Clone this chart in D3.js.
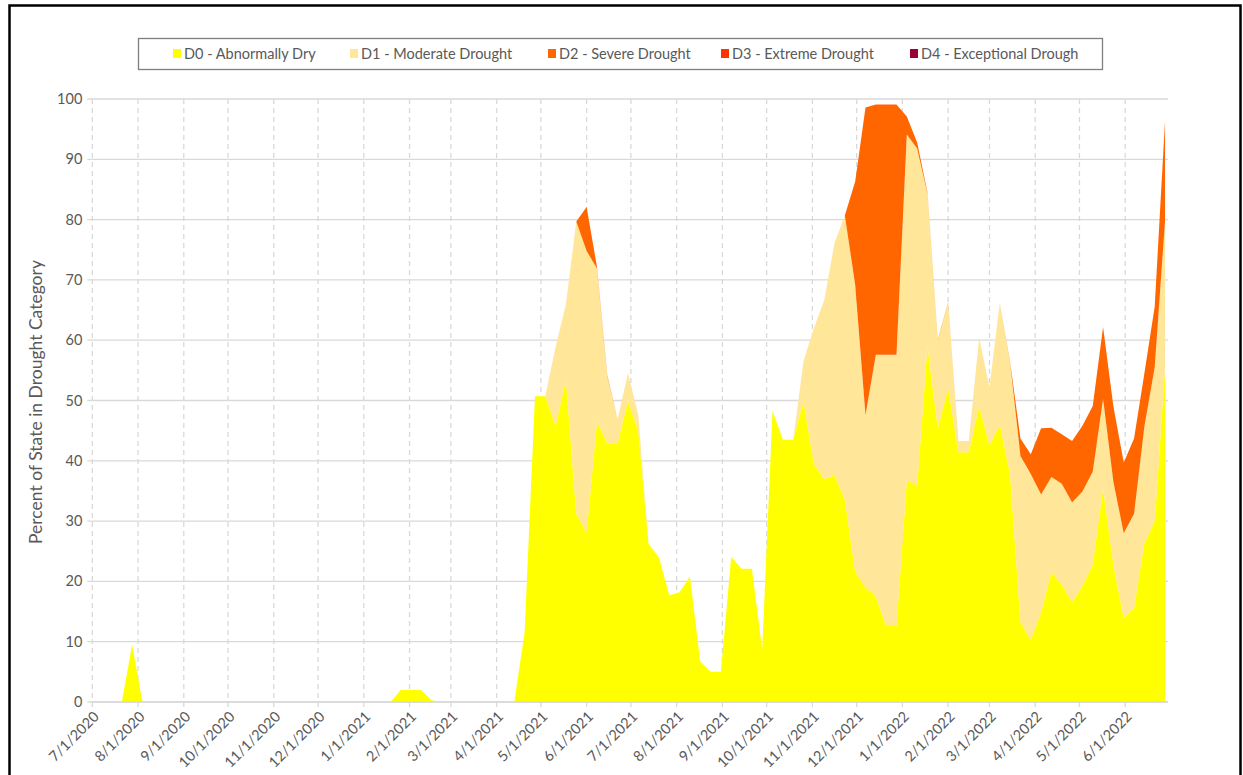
<!DOCTYPE html>
<html><head><meta charset="utf-8">
<script src="https://cdn.jsdelivr.net/npm/d3@7/dist/d3.min.js"></script>
<style>
body{margin:0;background:#fff}
text{font-family:Lato,"Open Sans",sans-serif;fill:#595959}
</style>
</head><body>
<svg id="chart" width="1243" height="775"></svg>
<script>
// ---- data (weekly US Drought Monitor style, percent of state) ----
const dates = [
"2020-07-07","2020-07-14","2020-07-21","2020-07-28","2020-08-04","2020-08-11","2020-08-18","2020-08-25",
"2020-09-01","2020-09-08","2020-09-15","2020-09-22","2020-09-29","2020-10-06","2020-10-13","2020-10-20",
"2020-10-27","2020-11-03","2020-11-10","2020-11-17","2020-11-24","2020-12-01","2020-12-08","2020-12-15",
"2020-12-22","2020-12-29","2021-01-05","2021-01-12","2021-01-19","2021-01-26","2021-02-02","2021-02-09",
"2021-02-16","2021-02-23","2021-03-02","2021-03-09","2021-03-16","2021-03-23","2021-03-30","2021-04-06",
"2021-04-13","2021-04-20","2021-04-27","2021-05-04","2021-05-11","2021-05-18","2021-05-25","2021-06-01",
"2021-06-08","2021-06-15","2021-06-22","2021-06-29","2021-07-06","2021-07-13","2021-07-20","2021-07-27",
"2021-08-03","2021-08-10","2021-08-17","2021-08-24","2021-08-31","2021-09-07","2021-09-14","2021-09-21",
"2021-09-28","2021-10-05","2021-10-12","2021-10-19","2021-10-26","2021-11-02","2021-11-09","2021-11-16",
"2021-11-23","2021-11-30","2021-12-07","2021-12-14","2021-12-21","2021-12-28","2022-01-04","2022-01-11",
"2022-01-18","2022-01-25","2022-02-01","2022-02-08","2022-02-15","2022-02-22","2022-03-01","2022-03-08",
"2022-03-15","2022-03-22","2022-03-29","2022-04-05","2022-04-12","2022-04-19","2022-04-26","2022-05-03",
"2022-05-10","2022-05-17","2022-05-24","2022-05-31","2022-06-07","2022-06-14","2022-06-21","2022-06-28"];

const d0 = [
0,0,0,9.5,0,0,0,0, 0,0,0,0,0,0,0,0, 0,0,0,0,0,0,0,0, 0,0,0,0,0,2.0,2.0,2.0,
0.3,0,0,0,0,0,0,0, 0,11.6,50.7,50.7,45.8,53.5,31.2,28.1,
46.5,42.9,42.9,49.9,45.0,26.2,24.0,17.7, 18.2,20.8,6.7,5.0,5.0,24.1,22.1,22.1,
8.7,48.3,43.5,43.5,49.9,39.5,37.0,37.6, 33.6,21.6,19.0,17.5,12.6,12.6,36.8,35.9,
59.1,45.4,52.1,41.4,41.4,49.1,42.6,46.0, 37.8,13.3,10.3,14.9,21.5,19.5,16.6,19.2,
22.8,35.5,22.8,13.9,15.6,26.4,30.0,55.5];

const d1 = [
0,0,0,0,0,0,0,0, 0,0,0,0,0,0,0,0, 0,0,0,0,0,0,0,0, 0,0,0,0,0,0,0,0,
0,0,0,0,0,0,0,0, 0,0,0,0,13.1,12.5,48.5,46.7,
25.4,11.1,4.0,4.6,2.6,0,0,0, 0,0,0,0,0,0,0,0,
0,0,0,0,6.6,22.5,29.6,38.5, 47.1,47.6,28.6,40.1,45.0,45.0,57.3,55.9,
25.2,14.6,14.1,1.9,1.9,11.3,9.6,20.2, 18.4,27.5,27.5,19.5,15.8,16.7,16.5,15.7,
15.4,14.8,13.7,14.1,15.6,19.3,25.5,24.3];

const d2 = [
0,0,0,0,0,0,0,0, 0,0,0,0,0,0,0,0, 0,0,0,0,0,0,0,0, 0,0,0,0,0,0,0,0,
0,0,0,0,0,0,0,0, 0,0,0,0,0,0,0,7.3,
0.3,0.2,0,0,0,0,0,0, 0,0,0,0,0,0,0,0,
0,0,0,0,0,0,0,0, 0,17.1,51.0,41.5,41.5,41.5,3.0,1.0,
0.2,0.1,0.1,0,0,0,0,0, 0.2,2.9,3.3,11.0,8.2,8.2,10.2,10.9,
10.9,11.9,12.5,11.7,12.5,8.8,10.1,16.6];

const d3v = [
0,0,0,0,0,0,0,0, 0,0,0,0,0,0,0,0, 0,0,0,0,0,0,0,0, 0,0,0,0,0,0,0,0,
0,0,0,0,0,0,0,0, 0,0,0,0,0,0,0,0, 0,0,0,0,0,0,0,0, 0,0,0,0,0,0,0,0,
0,0,0,0,0,0,0,0, 0,0,0,0,0,0,0,0, 0,0,0,0,0,0,0,0, 0,0,0,0,0,0,0,0,
0,0,0,0,0,0,0,0];
const d4v = d3v.slice();

const seriesKeys   = ["d0","d1","d2","d3","d4"];
const seriesNames  = ["D0 - Abnormally Dry","D1 - Moderate Drought","D2 - Severe Drought","D3 - Extreme Drought","D4 - Exceptional Drough"];
const seriesColors = ["#FFFF00","#FFE699","#FF6600","#FF3300","#990033"];

const yTicks = [0,10,20,30,40,50,60,70,80,90,100];
const xTickLabels = ["7/1/2020","8/1/2020","9/1/2020","10/1/2020","11/1/2020","12/1/2020",
"1/1/2021","2/1/2021","3/1/2021","4/1/2021","5/1/2021","6/1/2021","7/1/2021","8/1/2021",
"9/1/2021","10/1/2021","11/1/2021","12/1/2021","1/1/2022","2/1/2022","3/1/2022","4/1/2022",
"5/1/2022","6/1/2022"];
const xDomain = ["7/1/2020","6/30/2022"];
const yTitle = "Percent of State in Drought Category";

// ---- build ----
function parseISO(s){ const p=s.split("-").map(Number); return new Date(p[0],p[1]-1,p[2]); }
function parseMDY(s){ const p=s.split("/").map(Number); return new Date(p[2],p[0]-1,p[1]); }
const table = dates.map((d,i)=>({date:parseISO(d), d0:d0[i], d1:d1[i], d2:d2[i], d3:d3v[i], d4:d4v[i]}));

const svg = d3.select("#chart");
const L = 92.3, R = 1168, T = 99, B = 702;

const x = (d3.scaleTime ? d3.scaleTime() : d3.scaleLinear())
  .domain(xDomain.map(parseMDY)).range([L, R]);
const y = d3.scaleLinear().domain([0,100]).range([B, T]);

// outer border
svg.append("rect").attr("x",9.5).attr("y",5.5).attr("width",1231).attr("height",800)
  .attr("fill","none").attr("stroke","#000").attr("stroke-width",2.5);

// horizontal grid
svg.append("g").selectAll("line").data(yTicks).join("line")
  .attr("x1",L-5).attr("x2",R).attr("y1",d=>y(d)).attr("y2",d=>y(d))
  .attr("stroke","#d9d9d9").attr("stroke-width",1.3);

// vertical dashed grid
const xTicks = xTickLabels.map(parseMDY);
svg.append("g").selectAll("line").data(xTicks).join("line")
  .attr("x1",d=>x(d)).attr("x2",d=>x(d)).attr("y1",T).attr("y2",B)
  .attr("stroke","#d9d9d9").attr("stroke-width",1.3).attr("stroke-dasharray","5,4");

// stacked areas
const stack = d3.stack().keys(seriesKeys)(table);
const area = d3.area().x(d=>x(d.data.date)).y0(d=>y(d[0])).y1(d=>y(d[1]));
svg.append("g").selectAll("path").data(stack).join("path")
  .attr("d",area).attr("fill",(d,i)=>seriesColors[i]);

// x axis line and ticks
svg.append("line").attr("x1",L).attr("x2",R).attr("y1",B).attr("y2",B)
  .attr("stroke","#d9d9d9").attr("stroke-width",1.3);
svg.append("g").selectAll("line").data(xTicks).join("line")
  .attr("x1",d=>x(d)).attr("x2",d=>x(d)).attr("y1",B).attr("y2",B+5)
  .attr("stroke","#d9d9d9").attr("stroke-width",1.3);

// x labels
svg.append("g").selectAll("text").data(xTicks).join("text")
  .attr("transform",d=>`translate(${x(d)+4},${B+12}) rotate(-45)`)
  .attr("text-anchor","end").attr("dy","0.35em")
  .style("font-size","14.5px")
  .text((d,i)=>xTickLabels[i]);

// y labels
svg.append("g").selectAll("text").data(yTicks).join("text")
  .attr("x",L-10).attr("y",d=>y(d)).attr("dy","0.35em").attr("text-anchor","end")
  .style("font-size","14.5px").text(d=>d);

// y title
svg.append("text").attr("transform","translate(42,402) rotate(-90)")
  .attr("text-anchor","middle").style("font-size","17.5px").text(yTitle);

// legend
const legX = [173,350,548,721,910];
const leg = svg.append("g");
leg.append("rect").attr("x",138.5).attr("y",38.5).attr("width",964).attr("height",31)
  .attr("fill","#fff").attr("stroke","#7f7f7f").attr("stroke-width",1.3);
const li = leg.selectAll("g.li").data(seriesNames).join("g").attr("class","li")
  .attr("transform",(d,i)=>`translate(${legX[i]},54)`);
li.append("rect").attr("x",0).attr("y",-5).attr("width",8).attr("height",9)
  .attr("fill",(d,i)=>seriesColors[i]);
li.append("text").attr("x",11).attr("y",0).attr("dy","0.35em")
  .style("font-size","14.5px").text(d=>d);
</script>
</body></html>
